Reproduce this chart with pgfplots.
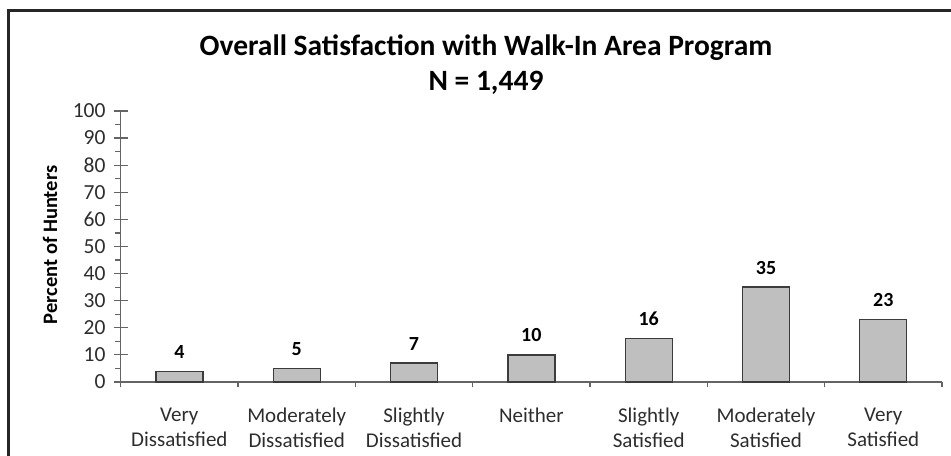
\documentclass[border=0pt]{standalone}
\usepackage{fontspec}
\setmainfont{Carlito}
\usepackage{pgfplots}
\pgfplotsset{compat=1.18}
\definecolor{barfill}{RGB}{191,191,191}
\definecolor{baredge}{RGB}{60,60,60}
\definecolor{axisgray}{RGB}{100,100,100}
\definecolor{labgray}{RGB}{45,45,45}
\begin{document}
\begin{tikzpicture}[x=1bp,y=1bp]
\path[use as bounding box] (0,0) rectangle (951,456);
\draw[line width=2.5bp, color=black!85] (8.7,-10) -- (8.7,445.3) -- (975,445.3);
\node[font=\fontsize{29.5bp}{34bp}\selectfont\bfseries, anchor=base, inner sep=0] at (486,400) {Overall Satisfaction with Walk-In Area Program};
\node[font=\fontsize{29.5bp}{34bp}\selectfont\bfseries, anchor=base, inner sep=0] at (486,365) {N = 1,449};
\node[font=\fontsize{20.5bp}{24bp}\selectfont\bfseries, rotate=90, inner sep=0] at (50,211) {Percent of Hunters};
\begin{axis}[
  at={(120.7bp,74bp)}, anchor=south west,
  scale only axis, width=821.3bp, height=271bp,
  xmin=-0.5, xmax=6.5, ymin=0, ymax=100,
  axis x line*=bottom, axis y line*=left,
  axis line style={axisgray, line width=1.2bp, -},
  tick style={axisgray, line width=1.2bp},
  tick align=outside,
  major tick length=14bp, minor tick length=5.5bp,
  major y tick style={xshift=7bp},
  major x tick style={draw=none},
  xtick={0,1,2,3,4,5,6},
  xticklabels={{Very\\Dissatisfied},{Moderately\\Dissatisfied},{Slightly\\Dissatisfied},{Neither},{Slightly\\Satisfied},{Moderately\\Satisfied},{Very\\Satisfied}},
  minor xtick={-0.5,0.5,1.5,2.5,3.5,4.5,5.5,6.5},
  ytick={0,10,...,100},
  minor ytick={5,15,...,95},
  xticklabel style={font=\fontsize{21bp}{24.4bp}\selectfont, text=labgray, align=center, anchor=north, inner sep=0, yshift=-12bp},
  yticklabel style={font=\fontsize{21.5bp}{24bp}\selectfont, text=labgray, anchor=east, inner sep=0, xshift=-1bp},
  /pgf/number format/assume math mode=true,
  ybar, bar width=47bp,
  clip=false,
  nodes near coords,
  every node near coord/.append style={font=\fontsize{20bp}{24bp}\selectfont\bfseries, anchor=base, inner sep=0, yshift=13bp, text=black},
]
\addplot[fill=barfill, draw=baredge, line width=1.3bp] coordinates {(0,4) (1,5) (2,7) (3,10) (4,16) (5,35) (6,23)};
\end{axis}
\end{tikzpicture}
\end{document}
